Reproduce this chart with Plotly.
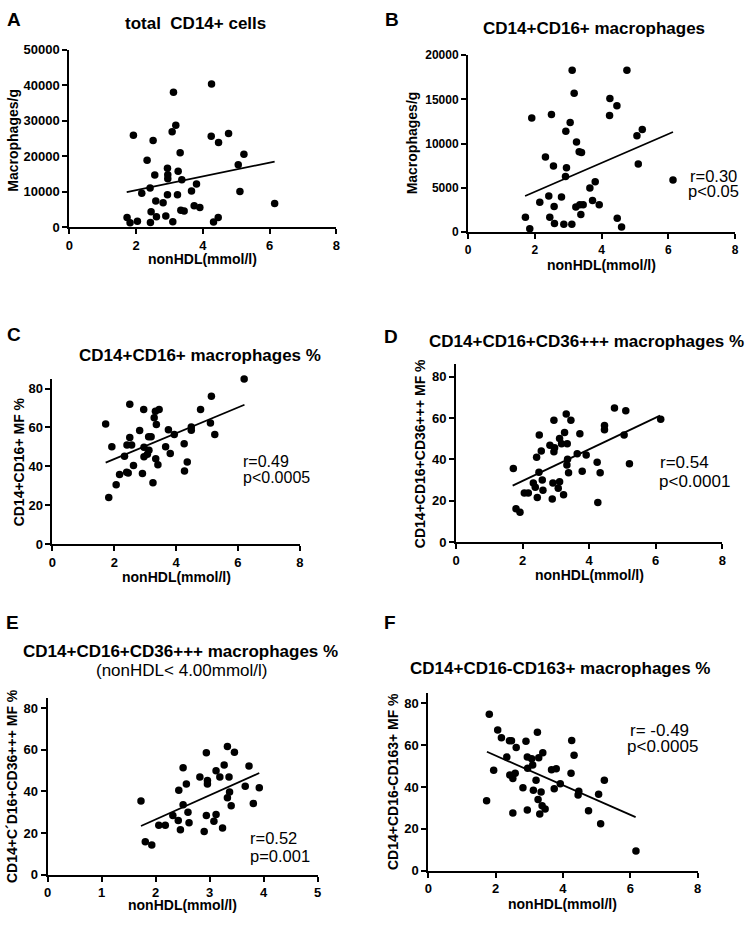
import plotly.graph_objects as go

W, H = 749, 926
FONT = "Liberation Sans, Arial, sans-serif"

# ---------------- data ----------------
a_x = [1.92, 2.51, 2.33, 2.56, 2.42, 2.17, 2.59, 2.81, 2.94, 3.24, 2.45, 3.12, 3.19, 3.08, 3.32, 2.94, 2.95, 2.95,
       3.26, 3.37, 3.81, 3.66, 3.34, 3.44, 3.74, 3.91, 4.26, 4.25, 4.47, 4.77, 5.23, 5.06, 5.11, 6.15, 4.46, 1.73,
       2.61, 2.89, 1.82, 2.04, 2.43, 3.10, 4.32]
a_y = [25900, 24400, 18900, 14700, 11100, 9600, 7400, 6900, 9200, 9200, 4400, 38000, 28700, 26900, 21000, 16600,
       14800, 13700, 15800, 13400, 12200, 10200, 4800, 4600, 6100, 5600, 40300, 25600, 23900, 26400, 20600, 17600,
       10100, 6700, 2800, 2800, 3000, 3200, 1300, 1700, 1400, 1600, 1500]
a_fit_x = [1.72, 6.15]
a_fit_y = [9900, 18500]

b_x = [3.12, 4.76, 3.18, 4.25, 4.46, 4.24, 1.91, 2.50, 3.06, 2.93, 3.25, 3.33, 3.40, 5.22, 5.06, 5.10, 2.32, 2.56,
       2.95, 2.92, 6.14, 3.81, 3.65, 2.42, 2.80, 2.15, 3.73, 2.58, 3.23, 3.35, 3.45, 3.93, 3.38, 1.72, 2.45, 4.47,
       1.85, 2.59, 2.87, 3.11, 4.60]
b_y = [18300, 18300, 15700, 15100, 14300, 13200, 12900, 13300, 12400, 11400, 10200, 9100, 9000, 11600, 10900, 7700,
       8500, 7500, 7300, 6300, 5900, 5700, 5000, 4100, 4000, 3400, 3600, 2900, 2850, 3100, 3100, 3100, 2000, 1700,
       1700, 1600, 400, 1000, 900, 900, 600]
b_fit_x = [1.71, 6.14]
b_fit_y = [4100, 11330]

c_x = [6.20, 5.14, 4.79, 5.11, 5.25, 4.49, 4.49, 3.94, 3.75, 3.45, 3.33, 3.29, 3.36, 2.95, 2.50, 2.82, 2.50, 3.19,
       3.11, 1.72, 1.92, 2.41, 2.56, 2.33, 2.96, 3.12, 3.07, 2.96, 3.66, 3.81, 4.26, 3.34, 3.41, 4.36, 4.27, 2.62,
       2.17, 2.45, 2.40, 2.91, 3.25, 2.06, 1.82]
c_y = [84.9, 76.1, 69.2, 62.3, 56.4, 60.3, 58.6, 56.4, 58.9, 69.2, 68.4, 65.0, 61.6, 69.2, 71.9, 58.4, 54.8, 55.2,
       55.3, 61.8, 50.1, 51.0, 51.0, 45.2, 49.8, 48.3, 46.2, 44.9, 50.1, 46.6, 51.6, 43.9, 40.9, 42.2, 37.6, 40.4,
       35.8, 36.6, 37.0, 36.3, 31.6, 30.5, 24.0]
c_fit_x = [1.72, 6.21]
c_fit_y = [41.9, 71.7]

d_x = [6.15, 4.76, 5.10, 4.46, 4.46, 5.05, 5.21, 4.24, 4.33, 4.26, 3.72, 3.91, 3.64, 3.79, 3.31, 3.45, 2.94, 3.26,
       3.11, 3.17, 3.34, 2.82, 2.96, 2.94, 2.56, 2.42, 2.50, 1.72, 2.49, 3.35, 3.33, 3.38, 2.59, 2.32, 2.38, 2.61,
       2.44, 2.05, 2.17, 2.91, 3.11, 3.07, 2.89, 3.23, 1.80, 1.92]
d_y = [59.4, 64.8, 63.5, 56.3, 54.3, 51.8, 37.9, 38.6, 33.5, 19.2, 52.4, 42.1, 42.7, 34.3, 61.9, 58.9, 58.9, 53.0,
       50.1, 47.6, 47.5, 46.8, 45.6, 43.7, 44.0, 41.0, 51.8, 35.6, 33.8, 40.0, 37.3, 33.5, 30.0, 28.6, 26.5, 25.1,
       21.6, 23.8, 23.8, 28.6, 29.2, 26.0, 20.8, 22.9, 16.2, 14.4]
d_fit_x = [1.70, 6.13]
d_fit_y = [27.3, 61.1]

e_x = [1.73, 1.81, 1.93, 2.06, 2.18, 2.32, 2.42, 2.46, 2.43, 2.51, 2.57, 2.51, 2.60, 2.62, 2.82, 2.94, 2.96, 2.96,
       2.94, 2.90, 3.12, 3.08, 3.12, 3.19, 3.27, 3.24, 3.33, 3.46, 3.36, 3.37, 3.33, 3.40, 3.73, 3.66, 3.92, 3.81]
e_y = [35.4, 15.8, 14.3, 23.7, 23.7, 28.4, 26.0, 21.6, 40.6, 51.4, 43.6, 33.6, 30.0, 24.9, 46.9, 58.5, 45.2, 43.6,
       28.4, 20.8, 28.9, 25.7, 49.9, 46.9, 52.7, 22.4, 61.6, 58.8, 46.9, 39.7, 37.0, 33.1, 52.2, 42.5, 41.7, 34.2]
e_fit_x = [1.73, 3.92]
e_fit_y = [23.4, 48.8]

f_x = [1.81, 1.73, 2.06, 2.17, 1.94, 2.33, 2.41, 2.47, 2.61, 2.42, 2.51, 2.58, 2.51, 2.81, 2.90, 2.94, 3.07, 2.95,
       3.10, 2.94, 3.12, 3.24, 3.20, 3.28, 3.40, 3.35, 3.26, 3.38, 3.47, 3.31, 3.66, 3.80, 3.74, 3.92, 4.26, 4.33,
       4.24, 4.47, 4.45, 4.76, 5.06, 5.23, 5.12, 6.17]
f_y = [74.7, 33.4, 67.2, 63.5, 48.0, 54.3, 62.1, 62.1, 58.8, 45.7, 44.1, 46.6, 27.6, 39.6, 61.8, 54.3, 53.5, 49.0,
       50.5, 29.0, 38.4, 66.1, 43.2, 53.9, 56.3, 37.6, 34.0, 31.0, 29.5, 27.1, 48.2, 48.7, 39.2, 41.6, 62.2, 55.2,
       46.6, 38.0, 36.2, 28.7, 36.5, 43.2, 22.5, 9.5]
f_fit_x = [1.74, 6.16]
f_fit_y = [56.8, 25.6]

pct_ticks = [0, 20, 40, 60, 80]
x_ticks8 = [0, 2, 4, 6, 8]
x_ticks5 = [0, 1, 2, 3, 4, 5]
x_title = "nonHDL(mmol/l)"

panels = [
    dict(letter="A", x=a_x, y=a_y, fx=a_fit_x, fy=a_fit_y,
         title=["<b>total  CD14+ cells</b>"], ytitle="Macrophages/g",
         yticks=[0, 10000, 20000, 30000, 40000, 50000], xticks=x_ticks8,
         stats=[]),
    dict(letter="B", x=b_x, y=b_y, fx=b_fit_x, fy=b_fit_y,
         title=["<b>CD14+CD16+ macrophages</b>"], ytitle="Macrophages/g",
         yticks=[0, 5000, 10000, 15000, 20000], xticks=x_ticks8,
         stats=["r=0.30", "p<0.05"]),
    dict(letter="C", x=c_x, y=c_y, fx=c_fit_x, fy=c_fit_y,
         title=["<b>CD14+CD16+ macrophages %</b>"], ytitle="CD14+CD16+ MF %",
         yticks=pct_ticks, xticks=x_ticks8, stats=["r=0.49", "p<0.0005"]),
    dict(letter="D", x=d_x, y=d_y, fx=d_fit_x, fy=d_fit_y,
         title=["<b>CD14+CD16+CD36+++ macrophages %</b>"], ytitle="CD14+CD16+CD36+++ MF %",
         yticks=pct_ticks, xticks=x_ticks8, stats=["r=0.54", "p<0.0001"]),
    dict(letter="E", x=e_x, y=e_y, fx=e_fit_x, fy=e_fit_y,
         title=["<b>CD14+CD16+CD36+++ macrophages %</b>", "(nonHDL< 4.00mmol/l)"],
         ytitle="CD14+C\u00b4D16+CD36+++ MF %",
         yticks=pct_ticks, xticks=x_ticks5, stats=["r=0.52", "p=0.001"]),
    dict(letter="F", x=f_x, y=f_y, fx=f_fit_x, fy=f_fit_y,
         title=["<b>CD14+CD16-CD163+ macrophages %</b>"], ytitle="CD14+CD16-CD163+ MF %",
         yticks=pct_ticks, xticks=x_ticks8, stats=["r= -0.49", "p<0.0005"]),
]

# ---------------- layout geometry (pixels) ----------------
geom = {
    "A": dict(xd=(66, 336), yd=(43.3, 224), xr=[0, 8], yr=[0, 50000], tfont=13,
              letter=(10, 13), title=[(194, 17)], ytit=(9, 135), xtit=256,
              stats=[], sfont=17),
    "B": dict(xd=(469, 739), yd=(49, 229), xr=[0, 8], yr=[0, 20000], tfont=12,
              letter=(392, 13), title=[(596, 22)], ytit=(412, 138), xtit=262,
              stats=[(717, 172, "center"), (717, 187.5, "center")], sfont=16.5),
    "C": dict(xd=(49, 299), yd=(378, 546), xr=[0, 8], yr=[0, 85], tfont=13,
              letter=(10, 333), title=[(198, 354)], ytit=(15, 462), xtit=579,
              stats=[(240, 461.7, "left"), (240, 478.3, "left")], sfont=16),
    "D": dict(xd=(457, 726), yd=(363, 544), xr=[0, 8], yr=[0, 86], tfont=13,
              letter=(391, 335), title=[(589, 340)], ytit=(420, 454), xtit=577,
              stats=[(661, 463.3, "left"), (660, 482.7, "left")], sfont=17),
    "E": dict(xd=(44, 317), yd=(702, 882), xr=[0, 5], yr=[0, 85], tfont=13,
              letter=(9, 626), title=[(178, 655), (180, 674)], ytit=(8, 792), xtit=913,
              stats=[(246.7, 845, "left"), (246.7, 863.3, "left")], sfont=16.5),
    "F": dict(xd=(429, 701), yd=(697, 878), xr=[0, 8], yr=[0, 85], tfont=13,
              letter=(390, 626), title=[(562, 672)], ytit=(393, 787), xtit=912,
              stats=[(663, 735, "center"), (666, 751.7, "center")], sfont=17),
}


def fx_(p):
    return p / W


def fy_(p):
    return 1 - p / H


fig = go.Figure()
annotations = []
layout = {}

for i, pnl in enumerate(panels, start=1):
    g = geom[pnl["letter"]]
    xa = "x" if i == 1 else f"x{i}"
    ya = "y" if i == 1 else f"y{i}"
    fig.add_trace(go.Scatter(x=pnl["x"], y=pnl["y"], mode="markers", xaxis=xa, yaxis=ya,
                             marker=dict(color="black", size=7.5), cliponaxis=False,
                             showlegend=False, hoverinfo="skip"))
    fig.add_trace(go.Scatter(x=pnl["fx"], y=pnl["fy"], mode="lines", xaxis=xa, yaxis=ya,
                             line=dict(color="black", width=1.8), cliponaxis=False,
                             showlegend=False, hoverinfo="skip"))
    common = dict(showline=True, linecolor="black", linewidth=2, ticks="outside", ticklen=5,
                  tickwidth=2, tickcolor="black", showgrid=False, zeroline=False,
                  tickfont=dict(family=FONT, size=g["tfont"], color="black", weight="bold"),
                  tickformat="d", fixedrange=True)
    layout["xaxis" if i == 1 else f"xaxis{i}"] = dict(
        domain=[fx_(g["xd"][0]), fx_(g["xd"][1])], anchor=ya, range=g["xr"],
        tickmode="array", tickvals=pnl["xticks"], **common)
    layout["yaxis" if i == 1 else f"yaxis{i}"] = dict(
        domain=[fy_(g["yd"][1]), fy_(g["yd"][0])], anchor=xa, range=g["yr"],
        tickmode="array", tickvals=pnl["yticks"], **common)

    # panel letter
    annotations.append(dict(text=f"<b>{pnl['letter']}</b>", x=fx_(g["letter"][0]), y=fy_(g["letter"][1]),
                            xref="paper", yref="paper", xanchor="center", yanchor="middle", showarrow=False,
                            font=dict(family=FONT, size=19, color="black")))
    # titles
    for (tx, ty), txt in zip(g["title"], pnl["title"]):
        annotations.append(dict(text=txt, x=fx_(tx), y=fy_(ty), xref="paper", yref="paper",
                                xanchor="center", yanchor="middle", showarrow=False,
                                font=dict(family=FONT, size=17, color="black")))
    # y title
    annotations.append(dict(text=f"<b>{pnl['ytitle']}</b>", x=fx_(g["ytit"][0]), y=fy_(g["ytit"][1]),
                            xref="paper", yref="paper", xanchor="center", yanchor="middle",
                            textangle=-90, showarrow=False,
                            font=dict(family=FONT, size=14, color="black")))
    # x title
    annotations.append(dict(text=f"<b>{x_title}</b>", x=fx_((g["xd"][0] + g["xd"][1]) / 2), y=fy_(g["xtit"]),
                            xref="paper", yref="paper", xanchor="center", yanchor="middle", showarrow=False,
                            font=dict(family=FONT, size=14, color="black")))
    # stats
    for (sx, sy, anc), txt in zip(g["stats"], pnl["stats"]):
        annotations.append(dict(text=txt, x=fx_(sx), y=fy_(sy), xref="paper", yref="paper",
                                xanchor=anc, yanchor="middle", showarrow=False,
                                font=dict(family=FONT, size=g["sfont"], color="black")))

fig.update_layout(width=W, height=H, autosize=False, margin=dict(l=0, r=0, t=0, b=0),
                  paper_bgcolor="white", plot_bgcolor="white", annotations=annotations,
                  font=dict(family=FONT, color="black"), **layout)

fig.write_html("out.html", config={"displayModeBar": False},
               post_script="document.body.style.margin='0';document.body.style.overflow='hidden';")
